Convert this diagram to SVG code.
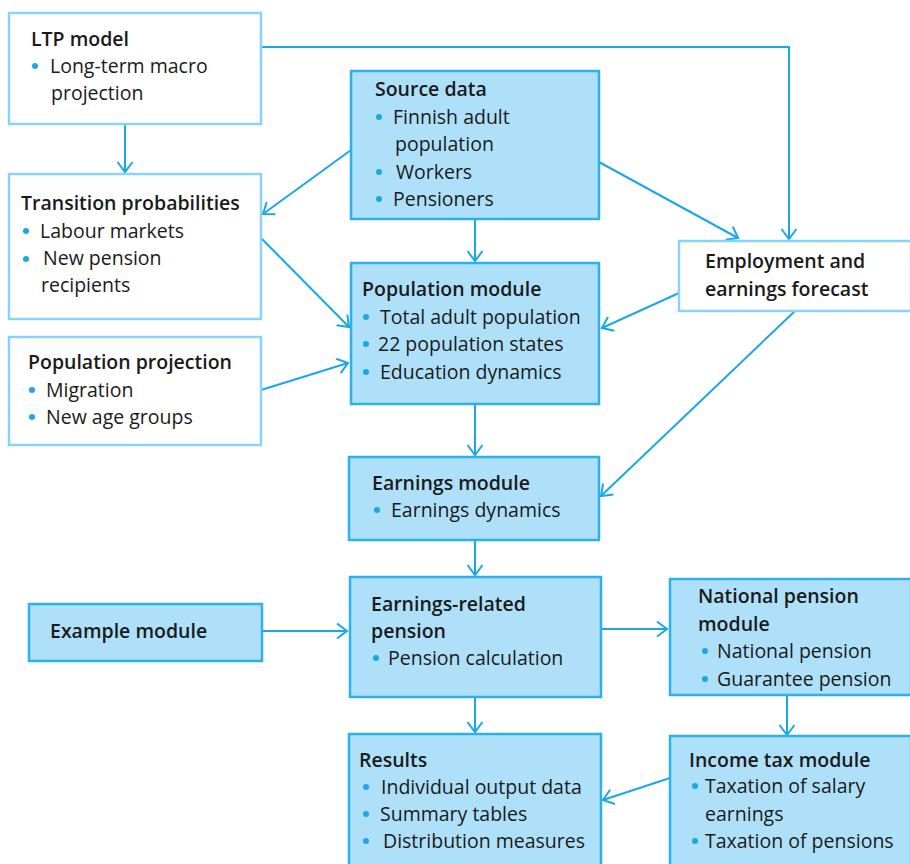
<svg xmlns="http://www.w3.org/2000/svg" width="910" height="864" viewBox="0 0 910 864">
<style>
.bw{fill:#ffffff;stroke:#8ad3f4;stroke-width:2.5}
.bb{fill:#aee1f9;stroke:#2eb0ea;stroke-width:2.5}
text{font-family:"Open Sans","Noto Sans","Liberation Sans",sans-serif;font-size:19.5px;fill:#1a1a1a}
.t{font-weight:600}
.d{fill:#1ea6e4}
.c{fill:none;stroke:#1ba7e6;stroke-width:2;marker-end:url(#ah)}
</style>
<defs>
<marker id="ah" markerUnits="userSpaceOnUse" viewBox="0 0 12 18" markerWidth="12" markerHeight="18" refX="11" refY="9" orient="auto" overflow="visible">
<path d="M1,1.5 L11,9 L1,16.5" fill="none" stroke="#1ba7e6" stroke-width="2"/>
</marker>
</defs>
<rect width="910" height="864" fill="#ffffff"/>

<g id="connectors">
<polyline class="c" points="261,47 789,47 789,239"/>
<line class="c" x1="125" y1="124" x2="125" y2="172"/>
<line class="c" x1="351" y1="150" x2="263" y2="214"/>
<line class="c" x1="475" y1="220" x2="475" y2="261"/>
<line class="c" x1="599" y1="162" x2="738" y2="238"/>
<line class="c" x1="261" y1="238" x2="349" y2="327"/>
<line class="c" x1="261" y1="390" x2="348" y2="363"/>
<line class="c" x1="679" y1="293" x2="602" y2="328"/>
<line class="c" x1="795" y1="311" x2="601" y2="496"/>
<line class="c" x1="475" y1="404" x2="475" y2="455"/>
<line class="c" x1="475" y1="540" x2="475" y2="575"/>
<line class="c" x1="262" y1="631" x2="347" y2="631"/>
<line class="c" x1="601" y1="629" x2="667" y2="629"/>
<line class="c" x1="475" y1="697" x2="475" y2="732"/>
<line class="c" x1="787" y1="695" x2="787" y2="735"/>
<line class="c" x1="670" y1="778" x2="603" y2="800"/>
</g>

<g id="ltp">
<rect class="bw" x="9" y="13" width="252" height="111"/>
<text class="t" x="31" y="46">LTP model</text>
<circle class="d" cx="35" cy="66" r="3"/>
<text x="50" y="73">Long-term macro</text>
<text x="51" y="100">projection</text>
</g>

<g id="source">
<rect class="bb" x="351" y="71" width="248" height="148"/>
<text class="t" x="375" y="96">Source data</text>
<circle class="d" cx="379" cy="117" r="3"/>
<text x="393" y="124">Finnish adult</text>
<text x="395" y="151">population</text>
<circle class="d" cx="379" cy="172" r="3"/>
<text x="396" y="179">Workers</text>
<circle class="d" cx="379" cy="199" r="3"/>
<text x="393" y="206">Pensioners</text>
</g>

<g id="transition">
<rect class="bw" x="9" y="174" width="252" height="145"/>
<text class="t" x="21" y="210">Transition probabilities</text>
<circle class="d" cx="26" cy="231" r="3"/>
<text x="40" y="238">Labour markets</text>
<circle class="d" cx="26" cy="259" r="3"/>
<text x="43" y="265">New pension</text>
<text x="41" y="292">recipients</text>
</g>

<g id="employment">
<rect class="bw" x="679" y="241" width="232" height="70"/>
<text class="t" x="705" y="268">Employment and</text>
<text class="t" x="705" y="296">earnings forecast</text>
</g>

<g id="population-module">
<rect class="bb" x="351" y="263" width="248" height="141"/>
<text class="t" x="362" y="296">Population module</text>
<circle class="d" cx="366" cy="317" r="3"/>
<text x="380" y="324">Total adult population</text>
<circle class="d" cx="366" cy="344" r="3"/>
<text x="378" y="351">22 population states</text>
<circle class="d" cx="366" cy="372" r="3"/>
<text x="380" y="379">Education dynamics</text>
</g>

<g id="population-projection">
<rect class="bw" x="9" y="337" width="252" height="108"/>
<text class="t" x="28" y="369">Population projection</text>
<circle class="d" cx="32" cy="390" r="3"/>
<text x="46" y="397">Migration</text>
<circle class="d" cx="32" cy="417" r="3"/>
<text x="46" y="424">New age groups</text>
</g>

<g id="earnings-module">
<rect class="bb" x="349" y="457" width="250" height="83"/>
<text class="t" x="372" y="490">Earnings module</text>
<circle class="d" cx="377" cy="510" r="3"/>
<text x="391" y="517">Earnings dynamics</text>
</g>

<g id="example-module">
<rect class="bb" x="29" y="604" width="233" height="57"/>
<text class="t" x="50" y="638">Example module</text>
</g>

<g id="earnings-related">
<rect class="bb" x="350" y="577" width="251" height="120"/>
<text class="t" x="371" y="611">Earnings-related</text>
<text class="t" x="371" y="638">pension</text>
<circle class="d" cx="376" cy="658" r="3"/>
<text x="388" y="665">Pension calculation</text>
</g>

<g id="national-pension">
<rect class="bb" x="670" y="579" width="241" height="116"/>
<text class="t" x="698" y="603">National pension</text>
<text class="t" x="698" y="631">module</text>
<circle class="d" cx="705" cy="651" r="3"/>
<text x="717" y="658">National pension</text>
<circle class="d" cx="705" cy="679" r="3"/>
<text x="717" y="686">Guarantee pension</text>
</g>

<g id="results">
<rect class="bb" x="349" y="734" width="252" height="134"/>
<text class="t" x="359" y="767">Results</text>
<circle class="d" cx="366" cy="787" r="3"/>
<text x="381" y="794">Individual output data</text>
<circle class="d" cx="366" cy="814" r="3"/>
<text x="380" y="821">Summary tables</text>
<circle class="d" cx="366" cy="841" r="3"/>
<text x="383" y="848">Distribution measures</text>
</g>

<g id="income-tax">
<rect class="bb" x="670" y="736" width="241" height="132"/>
<text class="t" x="689" y="767">Income tax module</text>
<circle class="d" cx="695" cy="786" r="3"/>
<text x="705" y="793">Taxation of salary</text>
<text x="705" y="821">earnings</text>
<circle class="d" cx="695" cy="841" r="3"/>
<text x="705" y="848">Taxation of pensions</text>
</g>
</svg>
